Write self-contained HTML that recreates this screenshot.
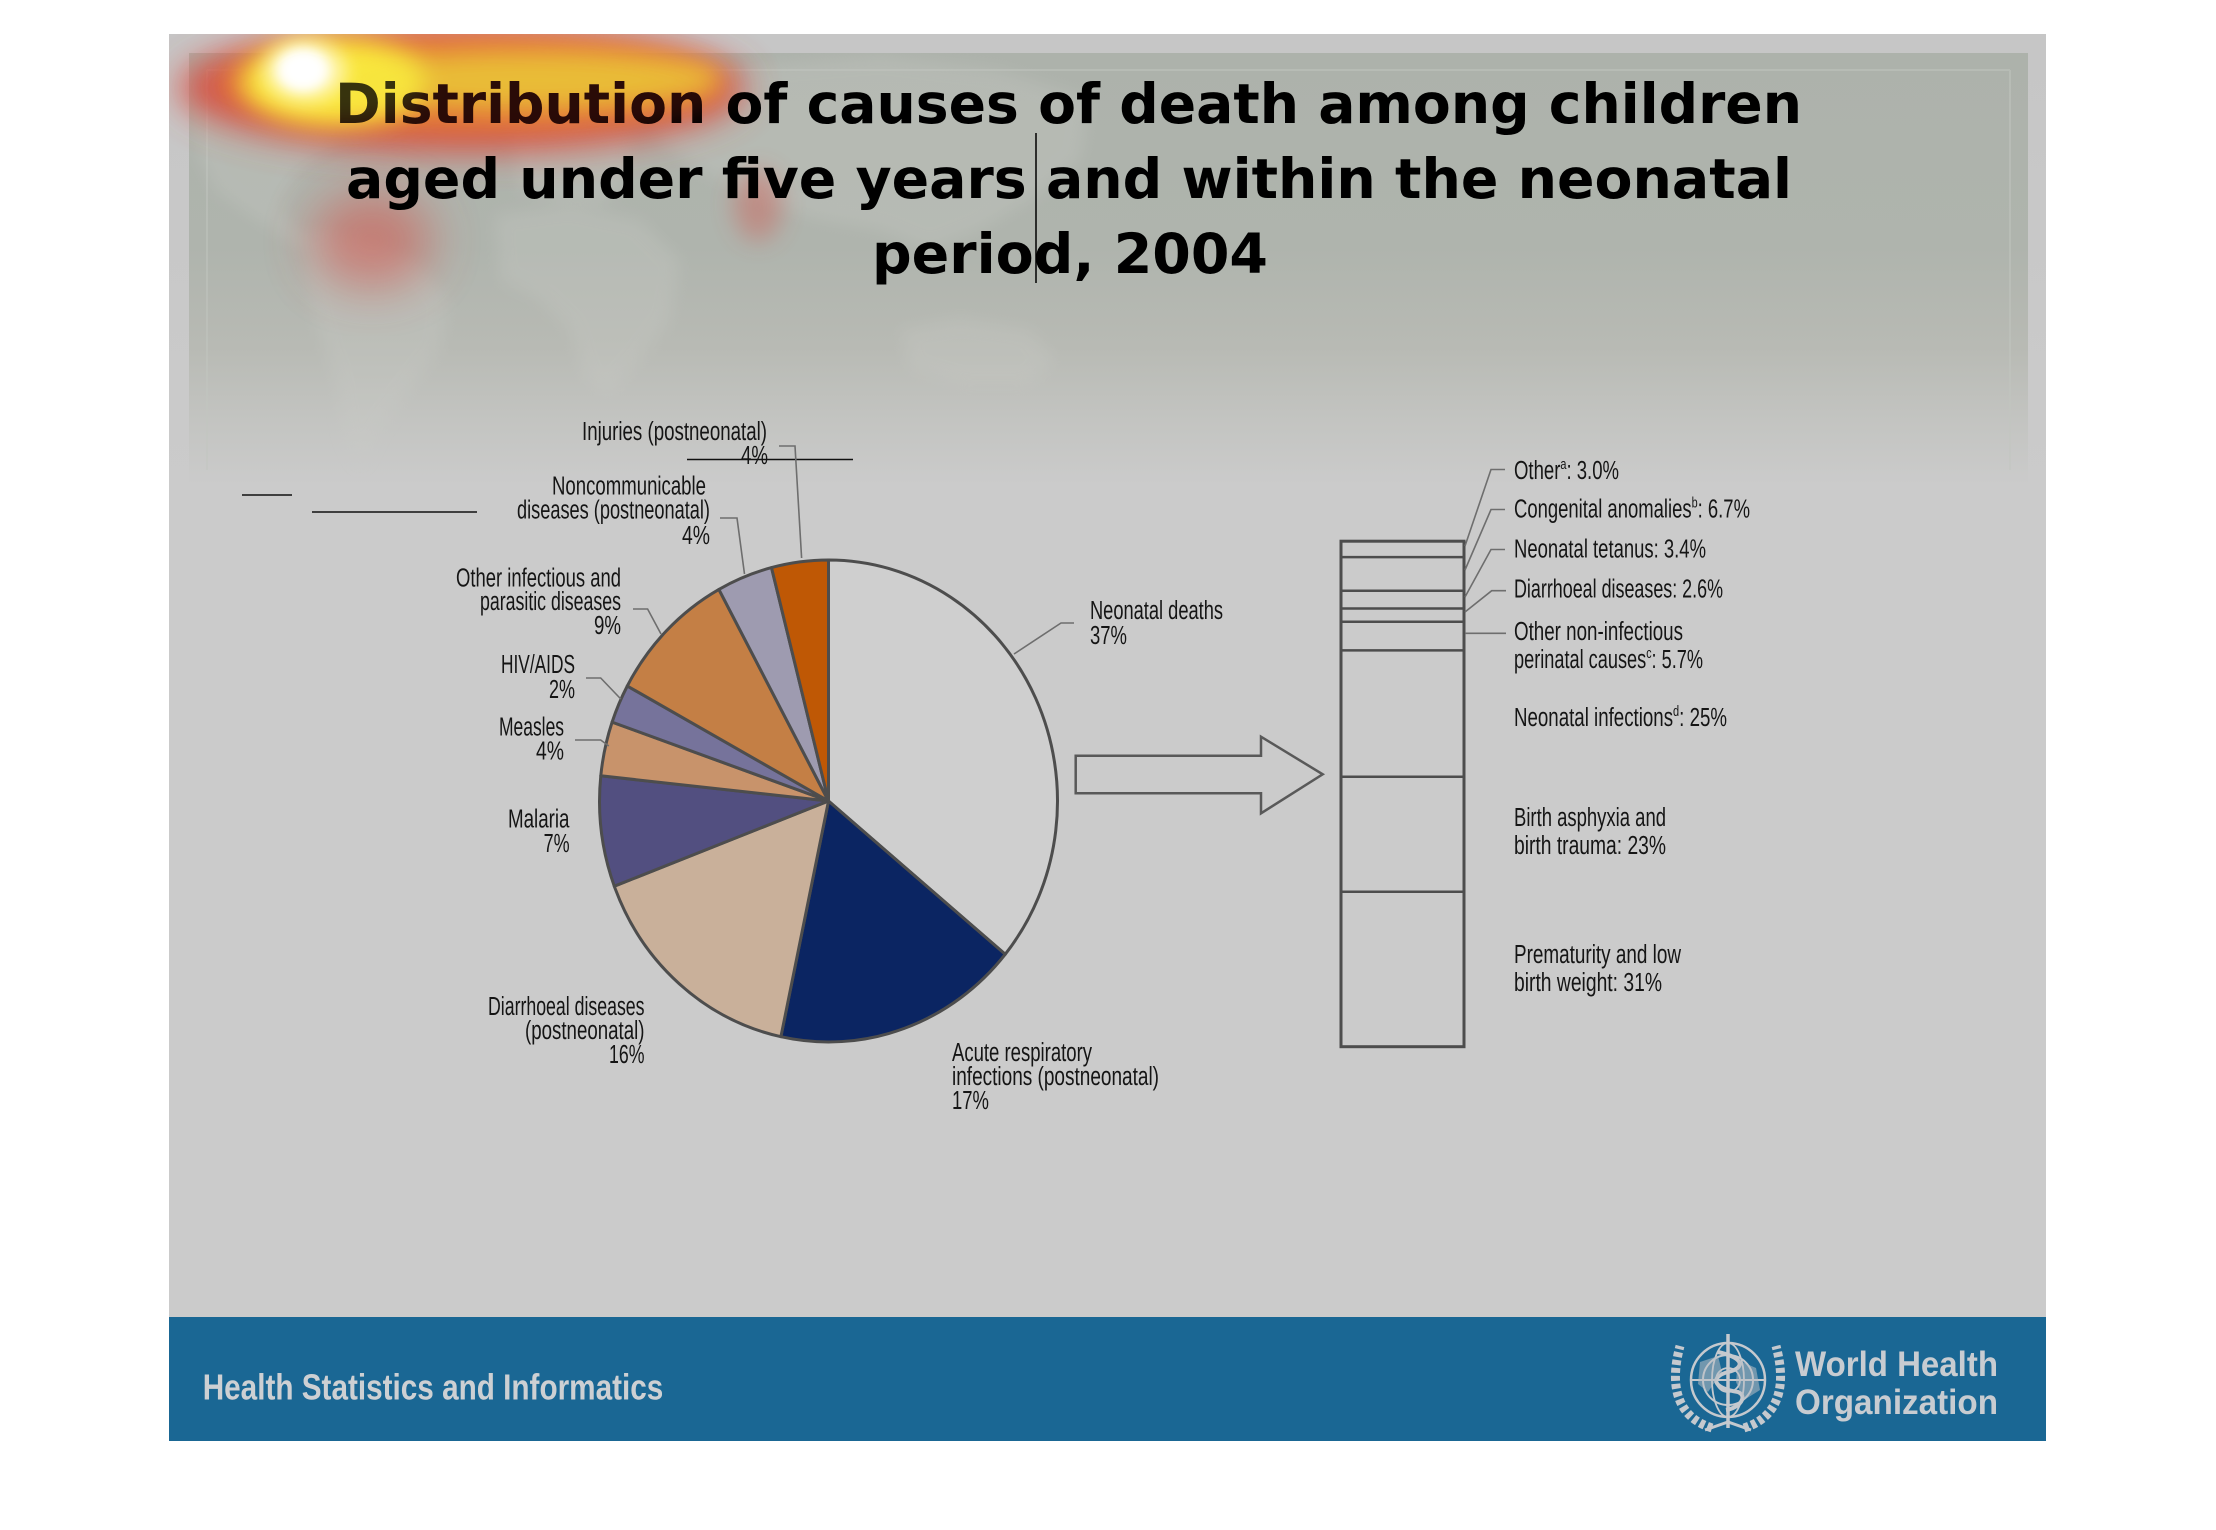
<!DOCTYPE html>
<html>
<head>
<meta charset="utf-8">
<style>
  html,body{margin:0;padding:0;background:#fff;}
  svg{display:block;}
  .lbl{font-family:"Liberation Sans",sans-serif;font-size:25.5px;fill:#151515;}
  .ttl{font-family:"DejaVu Sans","Liberation Sans",sans-serif;font-weight:bold;font-size:55px;fill:#000;}
</style>
</head>
<body>
<svg width="2216" height="1530" viewBox="0 0 2216 1530" xmlns="http://www.w3.org/2000/svg">
  <defs>
    <linearGradient id="panelGrad" x1="0" y1="53" x2="0" y2="485" gradientUnits="userSpaceOnUse">
      <stop offset="0" stop-color="#adb2ab"/>
      <stop offset="0.45" stop-color="#afb4ad"/>
      <stop offset="0.68" stop-color="#b8bab4"/>
      <stop offset="0.85" stop-color="#c3c4c1"/>
      <stop offset="1" stop-color="#cbcbcb"/>
    </linearGradient>
    <linearGradient id="marginGrad" x1="0" y1="34" x2="0" y2="490" gradientUnits="userSpaceOnUse">
      <stop offset="0" stop-color="#c6c6c6"/>
      <stop offset="1" stop-color="#cbcbcb"/>
    </linearGradient>
    <filter id="b5" x="-50%" y="-50%" width="200%" height="200%"><feGaussianBlur stdDeviation="5"/></filter>
    <filter id="b8" x="-50%" y="-50%" width="200%" height="200%"><feGaussianBlur stdDeviation="8"/></filter>
    <filter id="b12" x="-50%" y="-50%" width="200%" height="200%"><feGaussianBlur stdDeviation="12"/></filter>
    <filter id="b18" x="-50%" y="-50%" width="200%" height="200%"><feGaussianBlur stdDeviation="18"/></filter>
    <filter id="b24" x="-50%" y="-50%" width="200%" height="200%"><feGaussianBlur stdDeviation="24"/></filter>
    <clipPath id="slideClip"><rect x="169" y="34" width="1877" height="1283"/></clipPath>
    <clipPath id="panelClip"><rect x="189" y="53" width="1839" height="432"/></clipPath>
  </defs>

  <rect x="0" y="0" width="2216" height="1530" fill="#ffffff"/>
  <rect x="169" y="34" width="1877" height="1283" fill="#cbcbcb"/>
  <rect x="169" y="34" width="1877" height="456" fill="url(#marginGrad)"/>
  <rect x="189" y="53" width="1839" height="432" fill="url(#panelGrad)"/>

  <!-- faint world map -->
  <g clip-path="url(#panelClip)" opacity="0.3" fill="#c9cbc6" filter="url(#b8)">
    <path d="M190,80 L260,70 L320,95 L335,140 L300,170 L280,210 L300,235 L330,230 L345,250 L320,260 L290,240 L250,215 L215,190 L195,150 Z"/>
    <path d="M310,235 L370,240 L420,265 L448,300 L440,350 L410,390 L380,430 L360,470 L345,440 L335,380 L315,320 L305,270 Z"/>
    <path d="M510,125 L580,110 L630,130 L625,180 L600,205 L560,200 L520,190 Z"/>
    <path d="M495,215 L570,205 L640,220 L680,260 L670,320 L640,360 L610,395 L585,380 L570,330 L540,300 L500,280 Z"/>
    <path d="M660,90 L760,65 L880,55 L1000,70 L1090,100 L1080,160 L1030,200 L980,230 L930,250 L880,230 L820,220 L760,200 L700,170 L660,140 Z"/>
    <path d="M900,330 L960,318 L1030,330 L1055,360 L1030,385 L960,385 L910,370 Z"/>
  </g>
  <g stroke="#c2c6c0" stroke-width="2" opacity="0.5" fill="none">
    <line x1="207" y1="70" x2="2010" y2="70"/>
    <line x1="207" y1="70" x2="207" y2="470"/>
    <line x1="2010" y1="70" x2="2010" y2="470"/>
  </g>

  <!-- heatmap (under title) -->
  <g clip-path="url(#slideClip)">
    <ellipse cx="462" cy="88" rx="285" ry="64" fill="#e04a3e" opacity="0.8" filter="url(#b18)"/>
    <ellipse cx="372" cy="240" rx="60" ry="48" fill="#d8463e" opacity="0.5" filter="url(#b24)"/>
    <ellipse cx="758" cy="205" rx="24" ry="36" fill="#d8463e" opacity="0.35" filter="url(#b12)"/>
    <ellipse cx="470" cy="84" rx="250" ry="46" fill="#f2953a" opacity="0.85" filter="url(#b12)"/>
    <ellipse cx="335" cy="82" rx="95" ry="44" fill="#fbe83c" filter="url(#b12)"/>
    <ellipse cx="530" cy="80" rx="190" ry="28" fill="#f6e43e" filter="url(#b12)"/>
    <ellipse cx="305" cy="71" rx="42" ry="32" fill="#fff8c0" filter="url(#b8)"/>
    <ellipse cx="303" cy="70" rx="24" ry="20" fill="#ffffff" filter="url(#b5)"/>
  </g>

  <!-- title -->
  <text class="ttl" x="335" y="123" textLength="1467" lengthAdjust="spacingAndGlyphs">Distribution of causes of death among children</text>
  <text class="ttl" x="346" y="198" textLength="1446" lengthAdjust="spacingAndGlyphs">aged under five years and within the neonatal</text>
  <text class="ttl" x="872" y="273" textLength="396" lengthAdjust="spacingAndGlyphs">period, 2004</text>

  <!-- heatmap light overlay on top of text -->
  <g clip-path="url(#slideClip)" opacity="0.22">
    <ellipse cx="462" cy="88" rx="270" ry="55" fill="#c03020" filter="url(#b12)"/>
    <ellipse cx="335" cy="82" rx="90" ry="40" fill="#fbe83c" filter="url(#b12)"/>
    <ellipse cx="303" cy="70" rx="30" ry="24" fill="#ffffff" filter="url(#b5)"/>
  </g>

  <line x1="1036" y1="133" x2="1036" y2="283" stroke="#000" stroke-width="1.5"/>

  <g stroke="#111" stroke-width="1.5">
    <line x1="687" y1="459.5" x2="853" y2="459.5"/>
    <line x1="242" y1="495" x2="292" y2="495"/>
    <line x1="312" y1="512" x2="477" y2="512"/>
  </g>

  <!-- pie -->
  <g stroke="#4d4d4d" stroke-width="3" stroke-linejoin="round">
    <path d="M828.5,801 L828.5,560 A229,241 0 0 1 1005.2,954.3 Z" fill="#cfcfcf"/>
    <path d="M828.5,801 L1005.2,954.3 A229,241 0 0 1 780.9,1036.7 Z" fill="#0b2562"/>
    <path d="M828.5,801 L780.9,1036.7 A229,241 0 0 1 614.3,886.2 Z" fill="#c9b09a"/>
    <path d="M828.5,801 L614.3,886.2 A229,241 0 0 1 600.8,775.8 Z" fill="#524f80"/>
    <path d="M828.5,801 L600.8,775.8 A229,241 0 0 1 612.1,722.1 Z" fill="#c8936b"/>
    <path d="M828.5,801 L612.1,722.1 A229,241 0 0 1 627.3,686.0 Z" fill="#76739b"/>
    <path d="M828.5,801 L627.3,686.0 A229,241 0 0 1 718.9,589.4 Z" fill="#c47f45"/>
    <path d="M828.5,801 L718.9,589.4 A229,241 0 0 1 771.5,567.6 Z" fill="#9e9bb0"/>
    <path d="M828.5,801 L771.5,567.6 A229,241 0 0 1 828.5,560 Z" fill="#bf5805"/>
  </g>

  <g stroke="#6e6e6e" stroke-width="1.6" fill="none">
    <polyline points="779,446 795,446 801.6,558"/>
    <polyline points="720,518 737,518 744.5,574"/>
    <polyline points="633,609 647.6,609 661,634"/>
    <polyline points="586,678 600.7,678 620.8,699"/>
    <polyline points="575,740 600.7,740 608.8,746"/>
    <polyline points="1014,654 1061,623 1074,623"/>
  </g>

  <g class="lbl">
    <text x="582" y="440" textLength="185" lengthAdjust="spacingAndGlyphs">Injuries (postneonatal)</text>
    <text x="741" y="464" textLength="27" lengthAdjust="spacingAndGlyphs">4%</text>
    <text x="552" y="494.6" textLength="154" lengthAdjust="spacingAndGlyphs">Noncommunicable</text>
    <text x="517" y="518.3" textLength="193" lengthAdjust="spacingAndGlyphs">diseases (postneonatal)</text>
    <text x="682" y="543.8" textLength="28" lengthAdjust="spacingAndGlyphs">4%</text>
    <text x="456" y="586.6" textLength="165" lengthAdjust="spacingAndGlyphs">Other infectious and</text>
    <text x="480" y="610" textLength="141" lengthAdjust="spacingAndGlyphs">parasitic diseases</text>
    <text x="594" y="634" textLength="27" lengthAdjust="spacingAndGlyphs">9%</text>
    <text x="501" y="673" textLength="74" lengthAdjust="spacingAndGlyphs">HIV/AIDS</text>
    <text x="549" y="698" textLength="26" lengthAdjust="spacingAndGlyphs">2%</text>
    <text x="499" y="735.7" textLength="65" lengthAdjust="spacingAndGlyphs">Measles</text>
    <text x="536" y="759.4" textLength="28" lengthAdjust="spacingAndGlyphs">4%</text>
    <text x="508" y="827.7" textLength="61.5" lengthAdjust="spacingAndGlyphs">Malaria</text>
    <text x="543.6" y="851.8" textLength="26" lengthAdjust="spacingAndGlyphs">7%</text>
    <text x="488" y="1015" textLength="156.5" lengthAdjust="spacingAndGlyphs">Diarrhoeal diseases</text>
    <text x="525" y="1039" textLength="119.5" lengthAdjust="spacingAndGlyphs">(postneonatal)</text>
    <text x="609" y="1063" textLength="35.5" lengthAdjust="spacingAndGlyphs">16%</text>
    <text x="1090" y="619" textLength="133" lengthAdjust="spacingAndGlyphs">Neonatal deaths</text>
    <text x="1090" y="644" textLength="37" lengthAdjust="spacingAndGlyphs">37%</text>
    <text x="952" y="1061" textLength="140" lengthAdjust="spacingAndGlyphs">Acute respiratory</text>
    <text x="952" y="1085" textLength="207" lengthAdjust="spacingAndGlyphs">infections (postneonatal)</text>
    <text x="952" y="1109" textLength="37" lengthAdjust="spacingAndGlyphs">17%</text>
  </g>

  <polygon points="1075.7,755.7 1261,755.7 1261,736.7 1322.7,774.3 1261,813.3 1261,793.3 1075.7,793.3" fill="none" stroke="#595959" stroke-width="2.5" stroke-linejoin="miter"/>

  <g stroke="#4d4d4d" fill="none">
    <rect x="1341" y="541.2" width="123" height="505.5" stroke-width="3"/>
    <line x1="1341" y1="557.1" x2="1464" y2="557.1" stroke-width="2.5"/>
    <line x1="1341" y1="590.8" x2="1464" y2="590.8" stroke-width="2.5"/>
    <line x1="1341" y1="608.5" x2="1464" y2="608.5" stroke-width="2.5"/>
    <line x1="1341" y1="621.8" x2="1464" y2="621.8" stroke-width="2.5"/>
    <line x1="1341" y1="650.4" x2="1464" y2="650.4" stroke-width="2.5"/>
    <line x1="1341" y1="776.7" x2="1464" y2="776.7" stroke-width="2.5"/>
    <line x1="1341" y1="891.8" x2="1464" y2="891.8" stroke-width="2.5"/>
  </g>
  <g stroke="#6e6e6e" stroke-width="1.6" fill="none">
    <polyline points="1465,546 1491,469.5 1505,469.5"/>
    <polyline points="1465,570 1491,509.5 1505,509.5"/>
    <polyline points="1465,597 1491,549.5 1505,549.5"/>
    <polyline points="1465,612 1491.7,590.7 1506,590.7"/>
    <polyline points="1465,633.3 1506,633.3"/>
  </g>
  <g class="lbl">
    <text x="1514" y="479" textLength="105" lengthAdjust="spacingAndGlyphs">Other<tspan font-size="15" dy="-10">a</tspan><tspan dy="10">: 3.0%</tspan></text>
    <text x="1514" y="517.6" textLength="236" lengthAdjust="spacingAndGlyphs">Congenital anomalies<tspan font-size="15" dy="-10">b</tspan><tspan dy="10">: 6.7%</tspan></text>
    <text x="1514" y="557.6" textLength="192" lengthAdjust="spacingAndGlyphs">Neonatal tetanus: 3.4%</text>
    <text x="1514" y="597.5" textLength="209" lengthAdjust="spacingAndGlyphs">Diarrhoeal diseases: 2.6%</text>
    <text x="1514" y="640" textLength="169" lengthAdjust="spacingAndGlyphs">Other non-infectious</text>
    <text x="1514" y="668" textLength="189" lengthAdjust="spacingAndGlyphs">perinatal causes<tspan font-size="15" dy="-10">c</tspan><tspan dy="10">: 5.7%</tspan></text>
    <text x="1514" y="726" textLength="213" lengthAdjust="spacingAndGlyphs">Neonatal infections<tspan font-size="15" dy="-10">d</tspan><tspan dy="10">: 25%</tspan></text>
    <text x="1514" y="826" textLength="152" lengthAdjust="spacingAndGlyphs">Birth asphyxia and</text>
    <text x="1514" y="854" textLength="152" lengthAdjust="spacingAndGlyphs">birth trauma: 23%</text>
    <text x="1514" y="963" textLength="167" lengthAdjust="spacingAndGlyphs">Prematurity and low</text>
    <text x="1514" y="991" textLength="148" lengthAdjust="spacingAndGlyphs">birth weight: 31%</text>
  </g>

  <!-- footer -->
  <rect x="169" y="1317" width="1877" height="124" fill="#1a6794"/>
  <text x="202.7" y="1399.3" textLength="460.6" lengthAdjust="spacingAndGlyphs" font-family="Liberation Sans, sans-serif" font-weight="bold" font-size="36" fill="#cdd0d3">Health Statistics and Informatics</text>

  <g stroke="#c5c9ce" fill="none">
    <circle cx="1728" cy="1380" r="37" stroke-width="2.5"/>
    <circle cx="1728" cy="1380" r="25" stroke-width="2"/>
    <circle cx="1728" cy="1380" r="12" stroke-width="1.8"/>
    <ellipse cx="1728" cy="1380" rx="16" ry="37" stroke-width="1.8"/>
    <line x1="1691" y1="1380" x2="1765" y2="1380" stroke-width="2"/>
    <line x1="1728" y1="1334" x2="1728" y2="1428" stroke-width="3.5"/>
    <path d="M1718,1352 C1745,1358 1745,1368 1728,1372 C1710,1377 1712,1388 1738,1392 C1748,1396 1740,1408 1726,1410" stroke-width="4"/>
    <path d="M1712,1428 C1680,1418 1668,1390 1680,1346" stroke-width="9" stroke-dasharray="5 3"/>
    <path d="M1744,1428 C1776,1418 1788,1390 1776,1346" stroke-width="9" stroke-dasharray="5 3"/>
    <path d="M1705,1430 L1728,1422 L1751,1430" stroke-width="3"/>
  </g>
  <g fill="#b9bfc5" opacity="0.55">
    <path d="M1700,1362 L1718,1356 L1722,1372 L1708,1392 L1698,1384 Z"/>
    <path d="M1738,1360 L1756,1368 L1760,1390 L1744,1400 L1736,1382 Z"/>
  </g>
  <text x="1795" y="1376" textLength="203" lengthAdjust="spacingAndGlyphs" font-family="Liberation Sans, sans-serif" font-weight="bold" font-size="35" fill="#c8ccd1">World Health</text>
  <text x="1795" y="1414" textLength="203" lengthAdjust="spacingAndGlyphs" font-family="Liberation Sans, sans-serif" font-weight="bold" font-size="35" fill="#c8ccd1">Organization</text>
</svg>
</body>
</html>
